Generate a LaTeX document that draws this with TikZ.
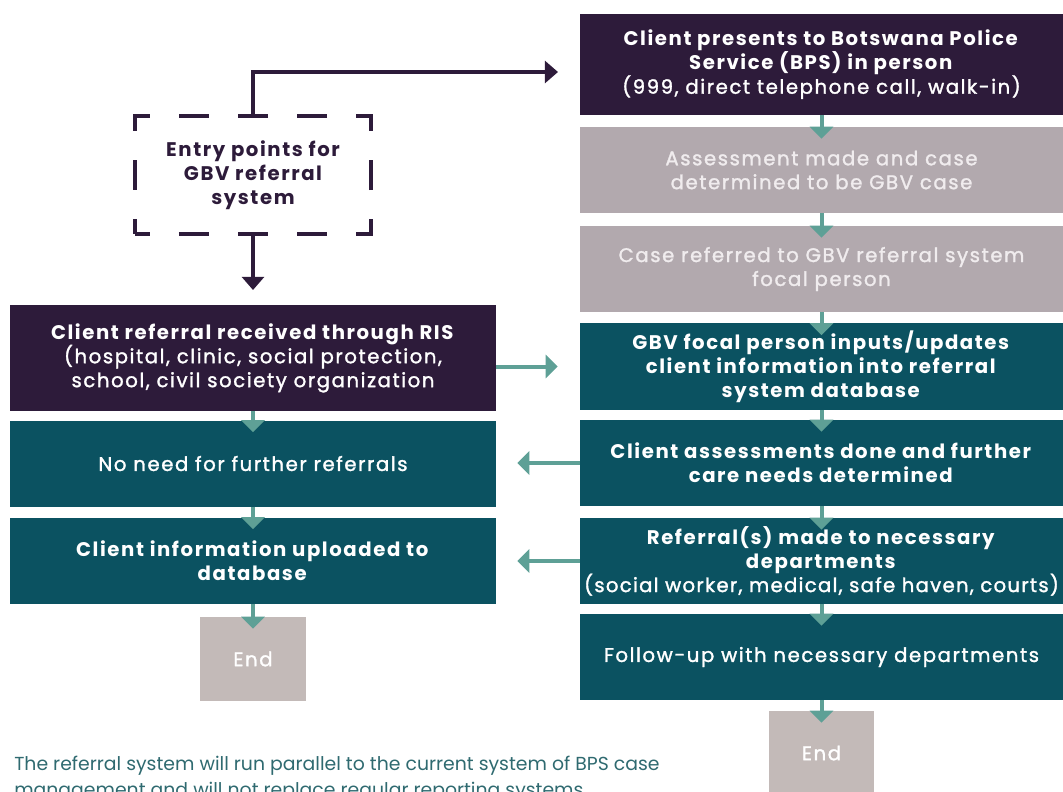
\documentclass[tikz,border=0pt]{standalone}
\usepackage{fontspec}
\setmainfont{Poppins}
\newfontfamily\boxfont[LetterSpace=8,UprightFeatures={FakeBold=1.5}]{Poppins}
\usetikzlibrary{arrows.meta}
\definecolor{bpspurple}{HTML}{2D1B3A}
\definecolor{flowteal}{HTML}{0B5261}
\definecolor{stepgray}{HTML}{B2A9AE}
\definecolor{fadedtext}{HTML}{F0ECEE}
\definecolor{endgray}{HTML}{C3BAB8}
\definecolor{arrowteal}{HTML}{5EA096}
\definecolor{noteteal}{HTML}{2F6A70}

\begin{document}
\begin{tikzpicture}[
  x={(0.025cm,0)},
  y={(0,-0.025cm)},
  box/.style={inner sep=0pt,align=center,text=white,font=\boxfont\fontsize{14}{17}\selectfont},
  rightbox/.style={box,minimum width=12.075cm,minimum height=2.15cm},
  leftbox/.style={box,minimum width=12.15cm,minimum height=2.15cm},
  bpsbox/.style={fill=bpspurple},
  flowbox/.style={fill=flowteal},
  checkbox/.style={fill=stepgray,text=fadedtext},
  endbox/.style={box,fill=endgray,minimum width=2.625cm,minimum height=2.1cm},
  entrybox/.style={draw=bpspurple,line width=0.1cm,dash pattern=on 0.75cm off 0.725cm,
    dash phase=0.375cm,minimum width=5.9cm,minimum height=2.95cm,inner sep=0pt,
    align=center,text=bpspurple,font=\boxfont\fontsize{14}{17}\selectfont\bfseries},
  purplearrow/.style={draw=bpspurple,line width=0.09cm,-{Triangle[length=0.33cm,width=0.55cm]}},
  tealarrow/.style={draw=arrowteal,line width=0.1cm,-{Triangle[length=0.3cm,width=0.58cm]}}
]
  \useasboundingbox (0,0) rectangle (1063,791);
  \clip (0,0) rectangle (1063,791);

  % BPS column.
  \node[rightbox,bpsbox,minimum height=2.525cm] (R1) at (821.5,64.5)
    {\textbf{Client presents to Botswana Police}\\\textbf{Service (BPS) in person}\\(999, direct telephone call, walk-in)};
  \node[rightbox,checkbox] (R2) at (821.5,170)
    {Assessment made and case\\determined to be GBV case};
  \node[rightbox,checkbox] (R3) at (821.5,269)
    {Case referred to GBV referral system\\focal person};
  \node[rightbox,flowbox] (R4) at (821.5,366.5)
    {\textbf{GBV focal person inputs/updates}\\\textbf{client information into referral}\\\textbf{system database}};
  \node[rightbox,flowbox] (R5) at (821.5,463)
    {\textbf{Client assessments done and further}\\\textbf{care needs determined}};
  \node[rightbox,flowbox] (R6) at (821.5,561)
    {\textbf{Referral(s) made to necessary}\\\textbf{departments}\\{\addfontfeature{LetterSpace=6.5}(social worker, medical, safe haven, courts)}};
  \node[rightbox,flowbox] (R7) at (821.5,657)
    {Follow-up with necessary departments};
  \node[endbox] (endR) at (821.5,753) {End};

  % RIS column.
  \node[leftbox,bpsbox,minimum height=2.65cm] (L1) at (253,358)
    {\textbf{Client referral received through RIS}\\(hospital, clinic, social protection,\\school, civil society organization};
  \node[leftbox,flowbox] (L2) at (253,463.5)
    {No need for further referrals};
  \node[leftbox,flowbox] (L3) at (253,560.5)
    {\textbf{Client information uploaded to}\\\textbf{database}};
  \node[endbox] (endL) at (253,659) {End};

  % Entry points.
  \node[entrybox] (entry) at (253,175) {Entry points for\\GBV referral\\system};
  \coordinate (bpsin) at (558,72);
  \coordinate (risin) at (253,290);
  \draw[purplearrow] (entry.north) |- (bpsin);
  \draw[purplearrow] (entry.south) -- (risin);

  % Step arrows run into the top of the next box.
  \foreach \a/\b in {R1/R2,R2/R3,R3/R4,R4/R5,R5/R6,R6/R7,R7/endR,L1/L2,L2/L3,L3/endL} {
    \draw[tealarrow] (\a.south) -- ([yshift=-0.3cm]\b.north);
  }
  \draw[tealarrow,shorten >=0.55cm] (R4.west -| L1.east) -- (R4.west);
  \draw[tealarrow,shorten >=0.525cm] (R5.west) -- (R5.west -| L2.east);
  \draw[tealarrow,shorten >=0.525cm] (R6.west) -- (R6.west -| L3.east);

  \node[anchor=north west,inner sep=0pt,align=left,text=noteteal,
    font=\fontsize{13.4}{18.5}\selectfont] (note) at (14,756)
    {The referral system will run parallel to the current system of BPS case\\management and will not replace regular reporting systems.};
\end{tikzpicture}
\end{document}
